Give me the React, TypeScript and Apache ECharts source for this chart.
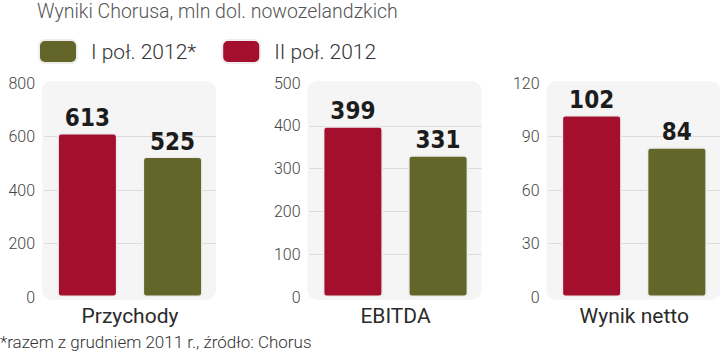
import React, { useEffect, useRef } from "react";
import * as echarts from "echarts";

const TITLE = "Wyniki Chorusa, mln dol. nowozelandzkich";
const FOOTNOTE = "*razem z grudniem 2011 r., źródło: Chorus";
const SERIES_NAMES = ["I poł. 2012*", "II poł. 2012"];
const CATEGORIES = ["Przychody", "EBITDA", "Wynik netto"];
const H2_2012 = [613, 399, 102]; // red, left bars
const H1_2012 = [525, 331, 84]; // olive, right bars
const AXIS_MAX = [800, 500, 120];
const AXIS_INTERVAL = [200, 100, 30];

const RED = "#a30f2c";
const OLIVE = "#646629";
const GRID_LEFTS = [44, 309.5, 548.5];
const GRID_W = 172;
const GRID_TOP = 83;
const GRID_H = 214;

export default function App() {
  const ref = useRef<HTMLDivElement>(null);
  useEffect(() => {
    document.body.style.margin = "0";
    const chart = echarts.init(ref.current!, null, { renderer: "svg" });
    const grids = GRID_LEFTS.map((l) => ({ left: l, top: GRID_TOP, width: GRID_W, height: GRID_H }));
    const xAxis = CATEGORIES.map((c, i) => ({
      type: "category",
      gridIndex: i,
      data: [c],
      axisLine: { show: false },
      axisTick: { show: false },
      axisLabel: { margin: 8, fontSize: 21, color: "#2a2a2a", fontFamily: "Roboto", fontWeight: 400 },
    }));
    const yAxis = CATEGORIES.map((_, i) => ({
      type: "value",
      gridIndex: i,
      min: 0,
      max: AXIS_MAX[i],
      interval: AXIS_INTERVAL[i],
      axisLine: { show: false },
      axisTick: { show: false },
      axisLabel: { margin: 9, fontSize: 16, color: "#444", fontFamily: "Roboto", fontWeight: 300 },
      splitLine: { show: true, showMinLine: false, showMaxLine: false, lineStyle: { color: "#dcdcdc", width: 1 } },
    }));
    const labelStyle = {
      show: true,
      position: "top",
      distance: 3,
      fontSize: 24,
      fontWeight: "bold",
      color: "#1c1c1c",
      fontFamily: "'DejaVu Sans Condensed', Roboto, sans-serif",
    };
    const series: any[] = [];
    CATEGORIES.forEach((_, i) => {
      series.push({
        type: "bar",
        name: SERIES_NAMES[1],
        xAxisIndex: i,
        yAxisIndex: i,
        data: [H2_2012[i]],
        barWidth: 60,
        barGap: "42%",
        itemStyle: { color: RED, borderColor: "#eeeeee", borderWidth: 1.5, borderRadius: 3 },
        label: labelStyle,
      });
      series.push({
        type: "bar",
        name: SERIES_NAMES[0],
        xAxisIndex: i,
        yAxisIndex: i,
        data: [H1_2012[i]],
        barWidth: 60,
        barGap: "42%",
        itemStyle: { color: OLIVE, borderColor: "#eeeeee", borderWidth: 1.5, borderRadius: 3 },
        label: labelStyle,
      });
    });
    const bgs = GRID_LEFTS.map((l) => ({
      type: "rect",
      left: l - 2,
      top: GRID_TOP - 2,
      z: -10,
      silent: true,
      shape: { width: GRID_W + 2, height: GRID_H + 5, r: 10 },
      style: { fill: "#f5f5f5" },
    }));
    chart.setOption({
      animation: false,
      backgroundColor: "#ffffff",
      grid: grids,
      xAxis,
      yAxis,
      series,
      legend: {
        data: [SERIES_NAMES[0], SERIES_NAMES[1]],
        left: 38,
        top: 39,
        padding: 0,
        itemWidth: 38,
        itemHeight: 23,
        itemGap: 25,
        icon: "roundRect",
        textStyle: { fontSize: 21, color: "#333", fontFamily: "Roboto", fontWeight: 300, padding: [0, 0, 0, 9] },
      },
      graphic: [
        ...bgs,
        {
          type: "text",
          left: 37,
          top: 1,
          style: { text: TITLE, fontSize: 19.5, fontFamily: "Roboto", fontWeight: 300, fill: "#555" },
        },
        {
          type: "text",
          left: 0,
          top: 333,
          style: { text: FOOTNOTE, fontSize: 17, fontFamily: "Roboto", fontWeight: 300, fill: "#333" },
        },
      ],
    });
    return () => chart.dispose();
  }, []);
  return <div ref={ref} style={{ width: 720, height: 354 }} />;
}
